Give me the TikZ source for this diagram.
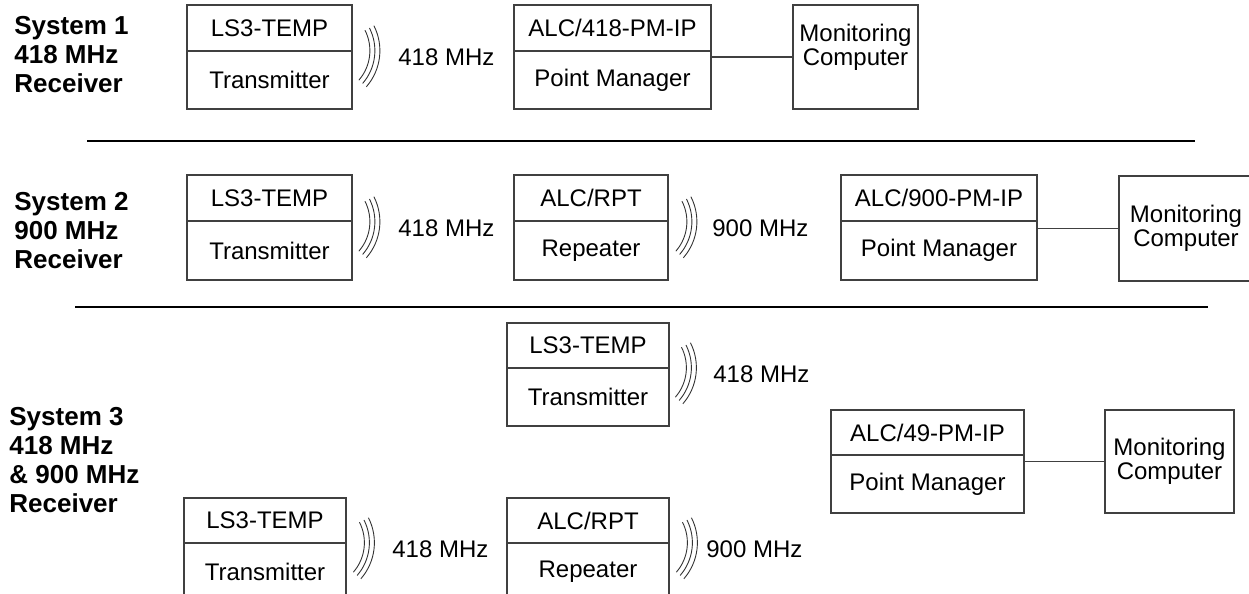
\documentclass[tikz,border=0pt]{standalone}
\usepackage{fontspec}
\setmainfont{Liberation Sans}
\usetikzlibrary{positioning}

\tikzset{
  head/.style={draw=black!75, line width=0.6pt, outer sep=0pt, inner sep=0pt,
    minimum height=23pt, font=\fontsize{12}{12}\selectfont},
  body/.style={head, minimum height=29pt},
  mon/.style={head, align=center},
  band/.style={anchor=west, inner sep=0pt, font=\fontsize{12}{12}\selectfont},
  sysname/.style={anchor=north west, inner sep=0pt, align=left,
    font=\bfseries\fontsize{13}{14.5}\selectfont},
  rule/.style={line width=1.4pt},
  link/.style={draw=black!75, line width=0.6pt},
  waves/.pic={
    \foreach \r in {45,50,55}
      \draw[black!80, line width=0.45pt, rotate=-7] (-52,0) ++(-34:\r) arc[start angle=-34, end angle=34, radius=\r];
  }
}

\begin{document}
\begin{tikzpicture}[x=0.5pt, y=-0.5pt]
            \clip (0,0) rectangle (1249,594);

            \node[sysname] (s1) at (14,16) {System 1\\418 MHz\\Receiver};
            \node[head, minimum width=82.5pt] (tx1) at (269.5,28) {LS3-TEMP};
            \node[body, minimum width=82.5pt, below=0pt of tx1] (tx1b) {Transmitter};
            \pic at (376.5,57) {waves};
            \node[band] (f1) at (398,57) {418 MHz};
            \node[head, minimum width=98.5pt] (pm1) at (612.5,28) {ALC/418-PM-IP};
            \node[body, minimum width=98.5pt, below=0pt of pm1] (pm1b) {Point Manager};
            \node[mon, minimum width=62.5pt, minimum height=52pt, text depth=12pt] (mon1) at (855.5,57) {Monitoring\\Computer};
            \draw[link] (mon1.west) -- (mon1.west -| pm1b.east);

            \draw[rule] (87,141) -- (1195,141);

            \node[sysname] (s2) at (14,192) {System 2\\900 MHz\\Receiver};
            \node[head, minimum width=82.5pt] (tx2) at (269.5,198) {LS3-TEMP};
            \node[body, minimum width=82.5pt, minimum height=29.5pt, below=0pt of tx2] (tx2b) {Transmitter};
            \pic at (376.5,228) {waves};
            \node[band] (f2) at (398,228) {418 MHz};
            \node[head, minimum width=77pt] (rpt2) at (591,198) {ALC/RPT};
            \node[body, minimum width=77pt, minimum height=29.5pt, below=0pt of rpt2] (rpt2b) {Repeater};
            \pic at (693.5,228) {waves};
            \node[band] (f3) at (712,228) {900 MHz};
            \node[head, minimum width=98pt] (pm2) at (939,198) {ALC/900-PM-IP};
            \node[body, minimum width=98pt, minimum height=29.5pt, below=0pt of pm2] (pm2b) {Point Manager};
            \node[mon, minimum width=67pt, minimum height=52.5pt] (mon2) at (1186,228.5) {Monitoring\\Computer};
            \draw[link] (mon2.west) -- (mon2.west -| pm2b.east);

            \draw[rule] (75,307) -- (1208,307);

            \node[sysname] (s3) at (9,407) {System 3\\418 MHz\\\& 900 MHz\\Receiver};
            \node[head, minimum width=81pt, minimum height=22.5pt] (tx3) at (588,345.5) {LS3-TEMP};
            \node[body, minimum width=81pt, below=0pt of tx3] (tx3b) {Transmitter};
            \pic at (693,374) {waves};
            \node[band] (f4) at (713,374) {418 MHz};
            \node[head, minimum width=96.5pt, minimum height=22.5pt] (pm3) at (927.5,432.5) {ALC/49-PM-IP};
            \node[body, minimum width=96.5pt, below=0pt of pm3] (pm3b) {Point Manager};
            \node[mon, minimum width=64.5pt, minimum height=51.5pt] (mon3) at (1169.5,461.5) {Monitoring\\Computer};
            \draw[link] (mon3.west) -- (mon3.west -| pm3b.east);
            \node[head, minimum width=81pt, minimum height=22.5pt] (tx4) at (265,520.5) {LS3-TEMP};
            \node[body, minimum width=81pt, below=0pt of tx4] (tx4b) {Transmitter};
            \pic at (371,549) {waves};
            \node[band] (f5) at (392,549) {418 MHz};
            \node[head, minimum width=81pt, minimum height=22.5pt] (rpt4) at (588,520.5) {ALC/RPT};
            \node[body, minimum width=81pt, below=0pt of rpt4] (rpt4b) {Repeater};
            \pic at (694,549) {waves};
            \node[band] (f6) at (706,549) {900 MHz};

\end{tikzpicture}
\end{document}
